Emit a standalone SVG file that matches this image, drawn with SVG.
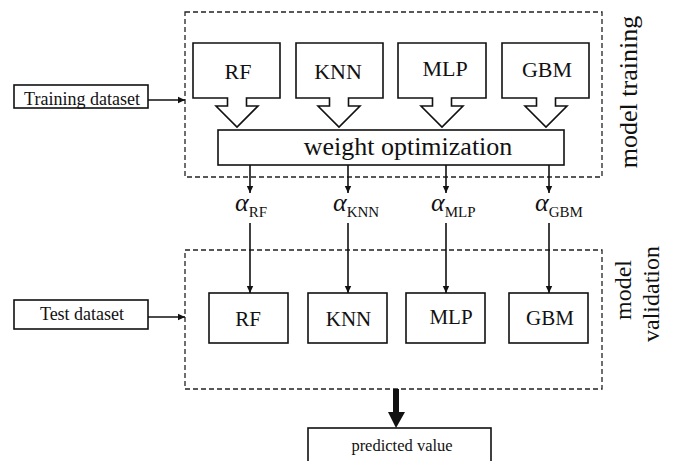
<svg xmlns="http://www.w3.org/2000/svg" width="674" height="461" viewBox="0 0 674 461">
  <defs>
    <marker id="arrow" markerWidth="8" markerHeight="8" refX="7" refY="4" orient="auto" markerUnits="userSpaceOnUse">
      <path d="M0,0.8 L7,4 L0,7.2 Z" fill="#111"/>
    </marker>
    <style>
      .dash { fill: none; stroke: #222; stroke-width: 1.3; stroke-dasharray: 5 3; }
      .box { fill: #fff; stroke: #111; stroke-width: 1.6; }
      .line { fill: none; stroke: #111; stroke-width: 1.6; marker-end: url(#arrow); }
      .t { font-family: "Liberation Serif", "Times New Roman", serif; fill: #111; text-anchor: middle; }
      .alpha { font-family: "Liberation Serif", "Times New Roman", serif; font-style: italic; font-size: 26px; fill: #111; }
      .sub { font-family: "Liberation Serif", "Times New Roman", serif; font-size: 15px; fill: #111; }
    </style>
  </defs>

  <rect width="674" height="461" fill="#fff"/>

  <!-- stage frames -->
  <g id="training-frame">
    <rect class="dash" x="185" y="12" width="417" height="165"/>
    <text class="t" font-size="26" transform="translate(637,92) rotate(-90)">model training</text>
  </g>
  <g id="validation-frame">
    <rect class="dash" x="185" y="250" width="417" height="139"/>
    <text class="t" font-size="24" transform="translate(631,290) rotate(-90)">model</text>
    <text class="t" font-size="24" transform="translate(659,294) rotate(-90)">validation</text>
  </g>

  <!-- inputs -->
  <g id="training-dataset">
    <rect class="box" x="14" y="85" width="134" height="23"/>
    <text class="t" font-size="18" x="82" y="105">Training dataset</text>
  </g>
  <g id="test-dataset">
    <rect class="box" x="14" y="300" width="134" height="29"/>
    <text class="t" font-size="18" x="82" y="320">Test dataset</text>
  </g>

  <!-- training models (callout boxes pointing down) -->
  <g id="train-rf">
    <path class="box" d="M193,43 H280 V98 H246.5 V106 H258 L237,127 L216,106 H227.5 V98 H193 Z"/>
    <text class="t" font-size="22" x="238" y="79">RF</text>
  </g>
  <g id="train-knn">
    <path class="box" d="M296,43 H383 V98 H348.5 V106 H360 L339,127 L318,106 H329.5 V98 H296 Z"/>
    <text class="t" font-size="22" x="338" y="79">KNN</text>
  </g>
  <g id="train-mlp">
    <path class="box" d="M398,43 H486 V98 H451.5 V106 H463 L442,127 L421,106 H432.5 V98 H398 Z"/>
    <text class="t" font-size="22" x="445" y="76">MLP</text>
  </g>
  <g id="train-gbm">
    <path class="box" d="M502,43 H589 V98 H555.5 V106 H567 L546,127 L525,106 H536.5 V98 H502 Z"/>
    <text class="t" font-size="22" x="547" y="77">GBM</text>
  </g>

  <g id="weight-optimization">
    <rect class="box" x="218" y="130" width="346" height="35"/>
    <text class="t" font-size="26" x="408" y="155">weight optimization</text>
  </g>

  <!-- ensemble weights -->
  <g id="weights">
    <text x="235" y="211"><tspan class="alpha">α</tspan><tspan class="sub" dy="6">RF</tspan></text>
    <text x="333" y="211"><tspan class="alpha">α</tspan><tspan class="sub" dy="6">KNN</tspan></text>
    <text x="431" y="211"><tspan class="alpha">α</tspan><tspan class="sub" dy="6">MLP</tspan></text>
    <text x="535" y="211"><tspan class="alpha">α</tspan><tspan class="sub" dy="6">GBM</tspan></text>
  </g>

  <!-- validation models -->
  <g id="val-rf">
    <rect class="box" x="209" y="293" width="79" height="50"/>
    <text class="t" font-size="21" x="248" y="326">RF</text>
  </g>
  <g id="val-knn">
    <rect class="box" x="308" y="293" width="79" height="50"/>
    <text class="t" font-size="21" x="348.5" y="326">KNN</text>
  </g>
  <g id="val-mlp">
    <rect class="box" x="406" y="293" width="79" height="50"/>
    <text class="t" font-size="21" x="451" y="324">MLP</text>
  </g>
  <g id="val-gbm">
    <rect class="box" x="509" y="293" width="79" height="50"/>
    <text class="t" font-size="21" x="550" y="325">GBM</text>
  </g>

  <g id="predicted-value">
    <rect class="box" x="308" y="428" width="183" height="40"/>
    <text class="t" font-size="16.5" x="402" y="451">predicted value</text>
  </g>

  <!-- connectors -->
  <g id="connectors">
    <line class="line" x1="148" y1="100" x2="185" y2="100"/>
    <line class="line" x1="148" y1="317" x2="185" y2="317"/>

    <line class="line" x1="250" y1="165" x2="250" y2="193"/>
    <line class="line" x1="348" y1="165" x2="348" y2="193"/>
    <line class="line" x1="446" y1="165" x2="446" y2="193"/>
    <line class="line" x1="549" y1="165" x2="549" y2="193"/>

    <line class="line" x1="250" y1="223" x2="250" y2="293"/>
    <line class="line" x1="348" y1="223" x2="348" y2="293"/>
    <line class="line" x1="446" y1="223" x2="446" y2="293"/>
    <line class="line" x1="549" y1="223" x2="549" y2="293"/>

    <path d="M393,389 H399 V412 H405 L396,428 L388,412 H393 Z" fill="#111"/>
  </g>
</svg>
